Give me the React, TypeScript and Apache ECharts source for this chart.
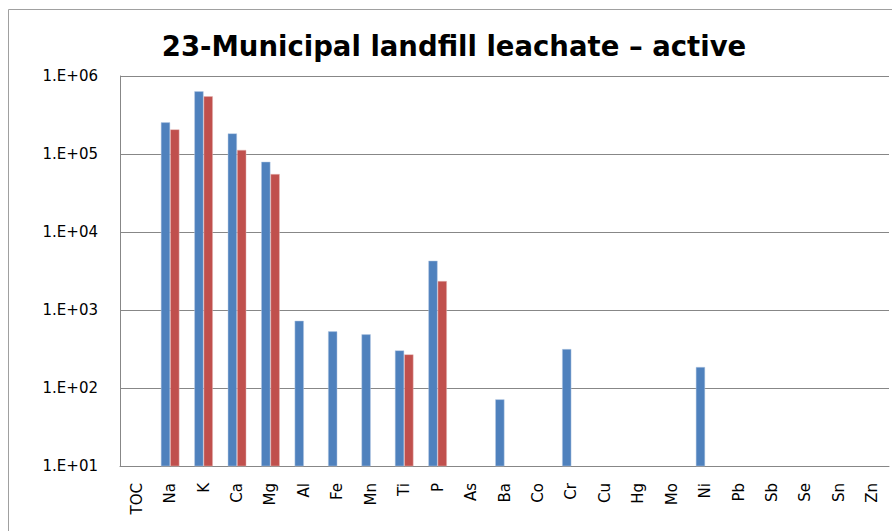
import React, { useEffect, useRef } from "react";
import * as echarts from "echarts";

const categories = ["TOC", "Na", "K", "Ca", "Mg", "Al", "Fe", "Mn", "Ti", "P", "As", "Ba", "Co", "Cr", "Cu", "Hg", "Mo", "Ni", "Pb", "Sb", "Se", "Sn", "Zn"];
const seriesBlue = [null, 255000, 637000, 184000, 79600, 729, 533, 488, 304, 4290, null, 71.6, null, 316, null, null, null, 186, null, null, null, null, null];
const seriesRed = [null, 207000, 550000, 113000, 55400, null, null, null, 270, 2355, null, null, null, null, null, null, null, null, null, null, null, null, null];
const titleText = "23-Municipal landfill leachate \u2013 active";

export default function App() {
  const ref = useRef<HTMLDivElement>(null);
  useEffect(() => {
    const chart = echarts.init(ref.current!, null, { renderer: "svg" });
    chart.setOption({
      animation: false,
      backgroundColor: "#ffffff",
      title: {
        text: titleText,
        left: 449,
        top: 27,
        textAlign: "center",
        textStyle: { fontFamily: "DejaVu Sans", fontWeight: "bold", fontSize: 27.5, color: "#000" },
      },
      graphic: [
        {
          type: "rect",
          shape: { x: 8.5, y: 9.5, width: 1000, height: 1000 },
          style: { fill: "none", stroke: "#a0a0a0", lineWidth: 1 },
          silent: true,
        },
      ],
      grid: { left: 120, top: 76, width: 769, height: 390 },
      xAxis: {
        type: "category",
        data: categories,
        axisLine: { show: true, lineStyle: { color: "#878787", width: 1 } },
        axisTick: { show: false },
        axisLabel: { rotate: 90, margin: 17, fontFamily: "DejaVu Sans", fontSize: 15, color: "#000", interval: 0 },
      },
      yAxis: {
        type: "log",
        logBase: 10,
        min: 10,
        max: 1000000,
        axisLine: { show: true, lineStyle: { color: "#878787", width: 1 } },
        axisTick: { show: false },
        splitLine: { show: true, lineStyle: { color: "#878787", width: 1 } },
        axisLabel: {
          margin: 22,
          fontFamily: "DejaVu Sans",
          fontSize: 15,
          color: "#000",
          formatter: (v: number) => {
            const e = Math.round(Math.log10(v));
            return "1.E+" + String(e).padStart(2, "0");
          },
        },
      },
      series: [
        {
          name: "Series 1",
          type: "bar",
          data: seriesBlue,
          barWidth: 9.3,
          barGap: "0%",
          itemStyle: { color: "#4F81BD", borderColor: "rgba(185,205,229,0.8)", borderWidth: 0.6 },
        },
        {
          name: "Series 2",
          type: "bar",
          data: seriesRed,
          barWidth: 9.3,
          barGap: "0%",
          itemStyle: { color: "#C0504D", borderColor: "rgba(230,185,184,0.8)", borderWidth: 0.6 },
        },
      ],
    });
    return () => chart.dispose();
  }, []);
  return (
    <div
      ref={ref}
      style={{ position: "fixed", left: 0, top: 0, width: 892, height: 531 }}
    />
  );
}
